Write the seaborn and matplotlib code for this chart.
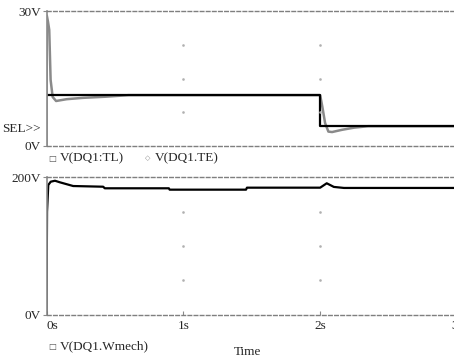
import matplotlib
matplotlib.use("Agg")
import matplotlib.pyplot as plt
import seaborn as sns
import pandas as pd
import numpy as np

# ---- data ----
tl_t = [0.0, 2.0, 2.0, 3.0]
tl_v = [11.3, 11.3, 4.4, 4.4]

te_t = [0.0, 0.002, 0.011, 0.02, 0.03, 0.045, 0.07, 0.147, 0.266, 0.43, 0.6, 2.0,
        2.016, 2.036, 2.06, 2.087, 2.16, 2.247, 2.35, 3.0]
te_v = [0.0, 29.0, 27.6, 25.8, 14.7, 10.9, 10.0, 10.4, 10.7, 10.95, 11.3, 11.3,
        8.7, 5.1, 3.2, 3.1, 3.6, 4.07, 4.4, 4.4]

w_t = [0.0, 0.004, 0.013, 0.031, 0.062, 0.098, 0.195, 0.414, 0.426, 0.894, 0.9,
       1.458, 1.465, 2.0, 2.048, 2.10, 2.174, 3.0]
w_v = [0.0, 150.0, 188.8, 193.6, 195.0, 192.7, 187.3, 186.3, 184.0, 184.0, 182.0,
       182.0, 184.9, 184.9, 191.3, 186.0, 184.5, 184.5]

x_ticks = [0, 1, 2, 3]
x_labels = ["0s", "1s", "2s", "3s"]
top_yticks = [0, 30]
top_ylabels = ["0V", "30V"]
bot_yticks = [0, 200]
bot_ylabels = ["0V", "200V"]

sns.set_style("white")
plt.rcParams['font.family'] = ['Liberation Serif', 'DejaVu Serif']
FS = 9.5

fig = plt.figure(figsize=(4.54, 3.6), dpi=100)
W, H = 454, 360
x0, x3 = 46.5, 457.0
ax1 = fig.add_axes([x0 / W, 1 - 146 / H, (x3 - x0) / W, (146 - 11) / H])
ax2 = fig.add_axes([x0 / W, 1 - 314.7 / H, (x3 - x0) / W, (314.7 - 177.3) / H])

gray = "#8a8a8a"
dash_col = "#7f7f7f"

df_te = pd.DataFrame({"t": te_t, "v": te_v})
df_tl = pd.DataFrame({"t": tl_t, "v": tl_v})
df_w = pd.DataFrame({"t": w_t, "v": w_v})

sns.lineplot(data=df_te, x="t", y="v", ax=ax1, color=gray, lw=1.8, sort=False,
             estimator=None)
sns.lineplot(data=df_tl, x="t", y="v", ax=ax1, color="black", lw=1.6, sort=False,
             estimator=None)
sns.lineplot(data=df_w, x="t", y="v", ax=ax2, color="black", lw=1.6, sort=False,
             estimator=None)

for ax, yt, yl, ymax in [(ax1, top_yticks, top_ylabels, 30), (ax2, bot_yticks, bot_ylabels, 200)]:
    ax.set_xlim(0, 3)
    ax.set_ylim(0, ymax)
    ax.set_xlabel("")
    ax.set_ylabel("")
    ax.set_yticks(yt)
    ax.set_yticklabels(yl, fontsize=FS)
    ax.spines["right"].set_visible(False)
    for s in ["top", "bottom"]:
        ax.spines[s].set_linestyle((0, (2.6, 1.8)))
        ax.spines[s].set_color(dash_col)
        ax.spines[s].set_linewidth(1.0)
    ax.spines["left"].set_color(gray)
    ax.spines["left"].set_linewidth(1.2)
    ax.tick_params(axis="y", direction="out", length=3, width=0.8, color=gray, pad=1,
                   left=True)
    ax.grid(False)
    # sparse dotted grid
    step = ymax / 4
    for gx in [1, 2]:
        for gy in np.arange(step, ymax, step):
            ax.plot([gx], [gy], marker="s", ms=0.8, color="#b0b0b0", lw=0)

ax1.set_xticks([])
ax2.set_xticks(x_ticks)
ax2.set_xticklabels(x_labels, fontsize=FS)
ax2.tick_params(axis="x", direction="in", length=3, width=0.8, color=gray, pad=4,
                bottom=True)
lbls = ax2.get_xticklabels()
lbls[0].set_horizontalalignment("left")

fig.text(2 / W, 1 - 129 / H, "SEL>>", fontsize=FS, va="center", ha="left")
fig.text(48 / W, 1 - 158 / H, "\u25a1", fontsize=6, va="center", ha="left", color="#555555",
         family=["DejaVu Sans"])
fig.text(60 / W, 1 - 158 / H, "V(DQ1:TL)", fontsize=FS, va="center", ha="left")
fig.text(145 / W, 1 - 158 / H, "\u25c7", fontsize=5, va="center", ha="left", color="#888888",
         family=["DejaVu Sans"])
fig.text(155 / W, 1 - 158 / H, "V(DQ1.TE)", fontsize=FS, va="center", ha="left")
fig.text(48 / W, 1 - 346 / H, "\u25a1", fontsize=6, va="center", ha="left", color="#555555",
         family=["DejaVu Sans"])
fig.text(60 / W, 1 - 346 / H, "V(DQ1.Wmech)", fontsize=FS, va="center", ha="left")
fig.text(247 / W, 1 - 352 / H, "Time", fontsize=FS, va="center", ha="center")

fig.savefig("out.png", dpi=100)
